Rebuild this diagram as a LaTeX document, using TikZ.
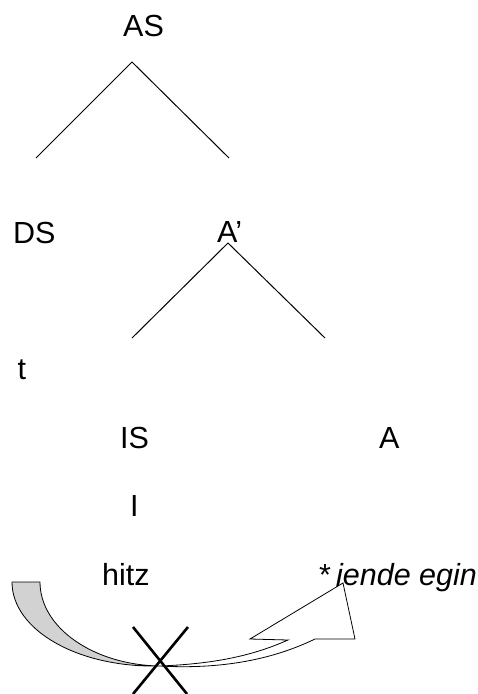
\documentclass[tikz,border=0pt]{standalone}
\usepackage{fontspec}
\setmainfont{Liberation Sans}
\usetikzlibrary{positioning}
\tikzset{
    lbl/.style={anchor=base west, inner sep=0pt, font=\fontsize{30.5}{36}\selectfont},
    branch/.style={line width=1pt},
    cross/.style={line width=2.6pt},
    bandgray/.style={draw=black, line width=0.8pt, fill=gray!35},
    bandwhite/.style={draw=black, line width=0.8pt, fill=white},
}

\begin{document}
\begin{tikzpicture}[x=1pt,y=-1pt]
      \useasboundingbox (0,0) rectangle (478,694);

      % labels
      \node[lbl] (AS) at (123,36) {AS};
      \node[lbl] (DS) at (13,243) {DS};
      \node[lbl] (Abar) at (217,242) {A’};
      \node[lbl] (t) at (17.5,379) {t};
      \node[lbl] (IS) at (120,448) {IS};
      \node[lbl] (A) at (379,448) {A};
      \node[lbl] (I) at (130,516) {I};
      \node[lbl] (hitz) at (102,585) {hitz};
      \node[lbl] (jende) at (319,585) {*\,\textit{jende egin}};

      % branches
      \coordinate (asTop) at (132,62);
      \coordinate (asL) at (36,158);
      \coordinate (asR) at (229,158);
      \draw[branch] (asL) -- (asTop) -- (asR);
      \coordinate (abTop) at (228,243);
      \coordinate (abL) at (132,338);
      \coordinate (abR) at (325,338);
      \draw[branch] (abL) -- (abTop) -- (abR);

      % curved arrow
      \draw[bandwhite] (160,666) .. controls (230,670) and (280,656) .. (315,639)
          -- (355,639) -- (343,583) -- (250,639) -- (288,640)
          .. controls (250,657) and (210,664) .. (160,666) -- cycle;
      \draw[bandgray] (12,582) -- (40,582) .. controls (40,628) and (94,665) .. (160,666)
          .. controls (78,668) and (12,630) .. (12,582) -- cycle;

      % cross
      \draw[cross] (133,627) -- (187,694);
      \draw[cross] (188,627) -- (133,694);
\end{tikzpicture}
\end{document}
